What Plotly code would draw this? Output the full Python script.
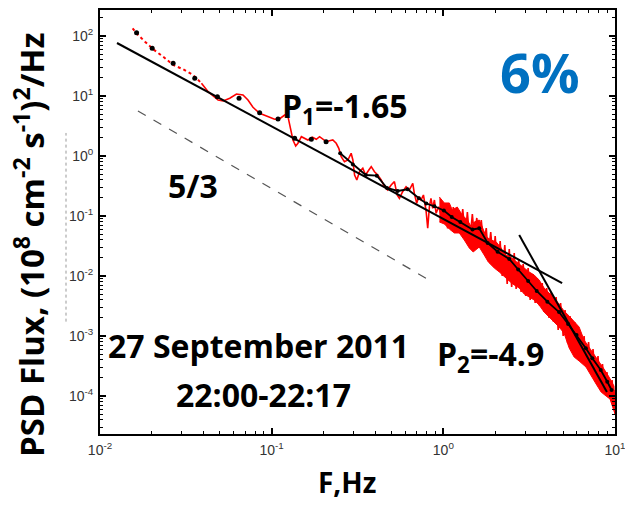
import plotly.graph_objects as go
import numpy as np

# ---- data (log10 values) ----
dotted_log_f = [-1.810, -1.787, -1.738, -1.690, -1.632, -1.574, -1.516, -1.467, -1.438, -1.409]
dotted_log_psd = [2.128, 2.042, 1.905, 1.778, 1.655, 1.517, 1.445, 1.367, 1.295, 1.212]

red_log_f = [-1.409, -1.370, -1.341, -1.312, -1.283, -1.244, -1.205, -1.167, -1.138, -1.109,
             -1.070, -1.022, -0.983, -0.953, -0.924, -0.905, -0.891, -0.876, -0.860, -0.847,
             -0.827, -0.808, -0.789, -0.763, -0.740, -0.721, -0.702, -0.682, -0.663, -0.644,
             -0.624, -0.609, -0.595, -0.576, -0.556, -0.537, -0.527, -0.517, -0.504, -0.488,
             -0.469, -0.453, -0.434, -0.420, -0.401, -0.382, -0.362, -0.343, -0.324, -0.304,
             -0.285, -0.269, -0.256, -0.237, -0.217, -0.198, -0.178, -0.169, -0.155, -0.144,
             -0.130, -0.116, -0.101, -0.091, -0.081, -0.072, -0.062, -0.052, -0.042, -0.027,
             -0.013, -0.004, 0.016, 0.025, 0.035,
             0.047, 0.058, 0.073, 0.087, 0.099, 0.113, 0.128, 0.140, 0.154, 0.169,
             0.180, 0.195, 0.209, 0.221, 0.235, 0.250, 0.262, 0.276, 0.291, 0.302,
             0.317, 0.331, 0.343, 0.358, 0.372, 0.384, 0.398, 0.413, 0.424, 0.439,
             0.453, 0.465, 0.480, 0.494, 0.506, 0.520, 0.535, 0.547, 0.561, 0.576,
             0.587, 0.602, 0.616, 0.628, 0.642, 0.657, 0.669, 0.683, 0.698, 0.709,
             0.724, 0.738, 0.750, 0.765, 0.779, 0.791, 0.805, 0.820, 0.831, 0.846,
             0.860, 0.872, 0.887, 0.901, 0.913, 0.927, 0.942, 0.953, 0.968, 0.983,
             0.994, 1.000]
red_log_psd = [1.212, 1.072, 1.000, 0.933, 0.917, 0.962, 1.033, 1.017, 0.933, 0.812,
               0.712, 0.655, 0.612, 0.622, 0.683, 0.655, 0.488, 0.267, 0.167, 0.212,
               0.322, 0.295, 0.267, 0.312, 0.278, 0.322, 0.278, 0.238, 0.255, 0.267,
               0.212, 0.128, -0.012, -0.095, -0.067, 0.045, -0.067, -0.317, -0.400, -0.262,
               -0.205, -0.317, -0.233, -0.178, -0.262, -0.317, -0.400, -0.512, -0.567, -0.483,
               -0.428, -0.650, -0.705, -0.595, -0.512, -0.567, -0.455, -0.622, -0.788, -0.678,
               -0.733, -0.650, -0.900, -1.205, -0.845, -0.705, -0.872, -0.733, -0.955, -0.845,
               -0.983, -0.900, -1.012, -1.205, -1.012,
               -1.167, -0.850, -1.233, -0.900, -1.283, -0.883, -1.350, -0.933, -1.417, -0.967,
               -1.333, -1.033, -1.533, -1.067, -1.483, -1.200, -1.667, -1.267, -1.767, -1.333,
               -1.900, -1.417, -2.000, -1.483, -2.133, -1.550, -2.183, -1.617, -2.217, -1.717,
               -2.267, -1.800, -2.333, -1.867, -2.400, -1.967, -2.450, -2.033, -2.500, -2.117,
               -2.600, -2.200, -2.700, -2.267, -2.767, -2.350, -2.900, -2.450, -3.000, -2.567,
               -3.117, -2.667, -3.200, -2.767, -3.317, -2.900, -3.400, -3.000, -3.500, -3.100,
               -3.617, -3.217, -3.750, -3.333, -3.883, -3.467, -3.950, -3.600, -4.033, -3.733,
               -4.200, -3.900]

# envelope of the dense high-frequency part of the red spectrum
band_upper_log_f = [-0.023, 0.006, 0.035, 0.052, 0.081, 0.110, 0.140, 0.163, 0.180, 0.209,
                    0.227, 0.250, 0.279, 0.308, 0.337, 0.355, 0.384, 0.413, 0.442, 0.471,
                    0.500, 0.529, 0.558, 0.587, 0.616, 0.645, 0.674, 0.703, 0.733, 0.762,
                    0.791, 0.820, 0.849, 0.878, 0.907, 0.936, 0.965, 0.994]
band_upper_log_psd = [-0.683, -0.783, -0.783, -0.900, -0.850, -0.983, -1.067, -1.183, -1.100, -1.067,
                      -1.183, -1.350, -1.400, -1.433, -1.533, -1.650, -1.667, -1.733, -1.800, -1.867,
                      -1.933, -1.983, -2.067, -2.200, -2.283, -2.367, -2.467, -2.583, -2.667, -2.750,
                      -2.850, -3.067, -3.183, -3.300, -3.433, -3.550, -3.683, -3.833]
band_lower_log_f = [-0.023, 0.006, 0.035, 0.064, 0.093, 0.122, 0.151, 0.174, 0.209, 0.238,
                    0.262, 0.297, 0.326, 0.355, 0.384, 0.413, 0.442, 0.471, 0.500, 0.529,
                    0.558, 0.587, 0.616, 0.645, 0.674, 0.703, 0.733, 0.762, 0.791, 0.831,
                    0.860, 0.890, 0.919, 0.948, 0.971, 1.000]
band_lower_log_psd = [-1.100, -1.133, -1.217, -1.283, -1.283, -1.400, -1.533, -1.600, -1.517, -1.650,
                      -1.767, -1.867, -1.933, -2.000, -2.083, -2.150, -2.200, -2.300, -2.350, -2.400,
                      -2.483, -2.600, -2.700, -2.767, -2.850, -2.950, -3.200, -3.350, -3.417, -3.517,
                      -3.650, -3.800, -3.933, -4.000, -4.050, -4.300]

dots_log_f = [-1.787, -1.696, -1.574, -1.448, -1.316, -1.190, -1.070, -0.963, -0.866, -0.769, -0.683]
dots_log_psd = [2.055, 1.795, 1.545, 1.295, 0.988, 0.962, 0.722, 0.617, 0.295, 0.278, 0.238]

smooth_log_f = [-0.601, -0.527, -0.452, -0.388, -0.328, -0.266, -0.208, -0.142, -0.099, -0.052,
                0.003, 0.049, 0.099, 0.170, 0.209, 0.258, 0.316, 0.384, 0.436, 0.494,
                0.544, 0.606, 0.674, 0.727, 0.776, 0.830, 0.868, 0.917, 0.955, 0.980]
smooth_log_psd = [0.045, -0.142, -0.317, -0.328, -0.533, -0.583, -0.555, -0.705, -0.792, -0.838,
                  -0.908, -1.017, -1.100, -1.225, -1.205, -1.450, -1.595, -1.717, -1.892, -2.083,
                  -2.250, -2.428, -2.600, -2.800, -2.983, -3.205, -3.372, -3.567, -3.762, -3.900]

fit1_log_f = [-1.901, 0.692]
fit1_log_psd = [1.883, -2.117]
fit2_log_f = [0.442, 0.953]
fit2_log_psd = [-1.317, -3.933]
ref53_log_f = [-1.779, -0.093]
ref53_log_psd = [0.750, -2.050]

x_tickvals = [1e-2, 1e-1, 1e0, 1e1]
x_ticktext = ["10<sup>-2</sup>", "10<sup>-1</sup>", "10<sup>0</sup>", "10<sup>1</sup>"]
y_tickvals = [1e-4, 1e-3, 1e-2, 1e-1, 1e0, 1e1, 1e2]
y_ticktext = ["10<sup>-4</sup>", "10<sup>-3</sup>", "10<sup>-2</sup>", "10<sup>-1</sup>",
              "10<sup>0</sup>", "10<sup>1</sup>", "10<sup>2</sup>"]


def p10(a):
    return np.power(10.0, np.array(a))


fig = go.Figure()
# dense band (envelope polygon)
band_x = list(p10(band_upper_log_f)) + list(p10(band_lower_log_f))[::-1]
band_y = list(p10(band_upper_log_psd)) + list(p10(band_lower_log_psd))[::-1]
fig.add_trace(go.Scatter(x=band_x, y=band_y, mode="lines", fill="toself", fillcolor="#ff0000",
                         line=dict(color="#ff0000", width=1), showlegend=False))
fig.add_trace(go.Scatter(x=p10(dotted_log_f), y=p10(dotted_log_psd), mode="lines",
                         line=dict(color="#ff0000", width=2, dash="dot"), showlegend=False))
fig.add_trace(go.Scatter(x=p10(red_log_f), y=p10(red_log_psd), mode="lines",
                         line=dict(color="#ff0000", width=1.6), showlegend=False))
fig.add_trace(go.Scatter(x=p10(ref53_log_f), y=p10(ref53_log_psd), mode="lines",
                         line=dict(color="#555555", width=1.2, dash="dash"), showlegend=False))
fig.add_trace(go.Scatter(x=p10(fit1_log_f), y=p10(fit1_log_psd), mode="lines",
                         line=dict(color="black", width=2), showlegend=False))
fig.add_trace(go.Scatter(x=p10(fit2_log_f), y=p10(fit2_log_psd), mode="lines",
                         line=dict(color="black", width=2), showlegend=False))
fig.add_trace(go.Scatter(x=p10(dots_log_f), y=p10(dots_log_psd), mode="markers",
                         marker=dict(color="black", size=5), showlegend=False))
fig.add_trace(go.Scatter(x=p10(smooth_log_f), y=p10(smooth_log_psd), mode="lines+markers",
                         line=dict(color="black", width=1.8), marker=dict(color="black", size=4),
                         showlegend=False))

x_minor = [m * 10.0 ** e for e in range(-2, 1) for m in range(2, 10)]
y_minor = [m * 10.0 ** e for e in range(-5, 3) for m in range(2, 10)]

tickfont = dict(family="Liberation Sans, Arial", size=14, color="#333333")
common = dict(type="log", tickmode="array", ticks="inside", ticklen=6, tickwidth=1.5,
              tickcolor="black", showline=True, linewidth=2, linecolor="black",
              mirror="allticks", showgrid=False, zeroline=False, tickfont=tickfont,
              automargin=False, ticklabelstandoff=2, ticklabeloverflow="allow")
fig.update_xaxes(range=[-2, 1], tickvals=x_tickvals, ticktext=x_ticktext,
                 minor=dict(tickmode="array", tickvals=x_minor, ticks="inside", ticklen=3,
                            tickcolor="black", tickwidth=1, showgrid=False), **common)
fig.update_yaxes(range=[-4.633, 2.433], tickvals=y_tickvals, ticktext=y_ticktext,
                 minor=dict(tickmode="array", tickvals=y_minor, ticks="inside", ticklen=3,
                            tickcolor="black", tickwidth=1, showgrid=False), **common)

bold = "Open Sans"
anns = [
    dict(text="6%", x=0.854, y=0.854, size=54, color="#0070C0"),
    dict(text="P<sub>1</sub>=-1.65", x=0.476, y=0.769, size=32, color="black"),
    dict(text="5/3", x=0.180, y=0.585, size=32, color="black"),
    dict(text="27 September 2011", x=0.307, y=0.208, size=32, color="black"),
    dict(text="22:00-22:17", x=0.317, y=0.093, size=32, color="black"),
    dict(text="P<sub>2</sub>=-4.9", x=0.759, y=0.183, size=32, color="black"),
]
for a in anns:
    fig.add_annotation(text="<b>" + a["text"] + "</b>", x=a["x"], y=a["y"], xref="paper",
                       yref="paper", showarrow=False, xanchor="center", yanchor="middle",
                       font=dict(family=bold, size=a["size"], color=a["color"]))

# axis titles as annotations
fig.add_annotation(text="<b>PSD Flux, (10<sup>8</sup> cm<sup>-2</sup> s<sup>-1</sup>)<sup>2</sup>/Hz</b>",
                   x=-0.137, y=0.447, xref="paper", yref="paper", showarrow=False,
                   textangle=-90, xanchor="center", yanchor="middle",
                   font=dict(family=bold, size=33, color="black"))
fig.add_annotation(text="<b>F,Hz</b>", x=0.480, y=-0.163, xref="paper", yref="paper",
                   showarrow=False, xanchor="center", yanchor="bottom",
                   font=dict(family=bold, size=28, color="black"))

# faint dashed artefact left of the axis
fig.add_shape(type="line", xref="paper", yref="paper", x0=-0.066, x1=-0.066, y0=0.265, y1=0.71,
              line=dict(color="#999999", width=1, dash="dot"))

fig.update_layout(width=625, height=505, margin=dict(l=100, r=10, t=10, b=71),
                  paper_bgcolor="white", plot_bgcolor="white", showlegend=False)

fig.write_html("out.html")
